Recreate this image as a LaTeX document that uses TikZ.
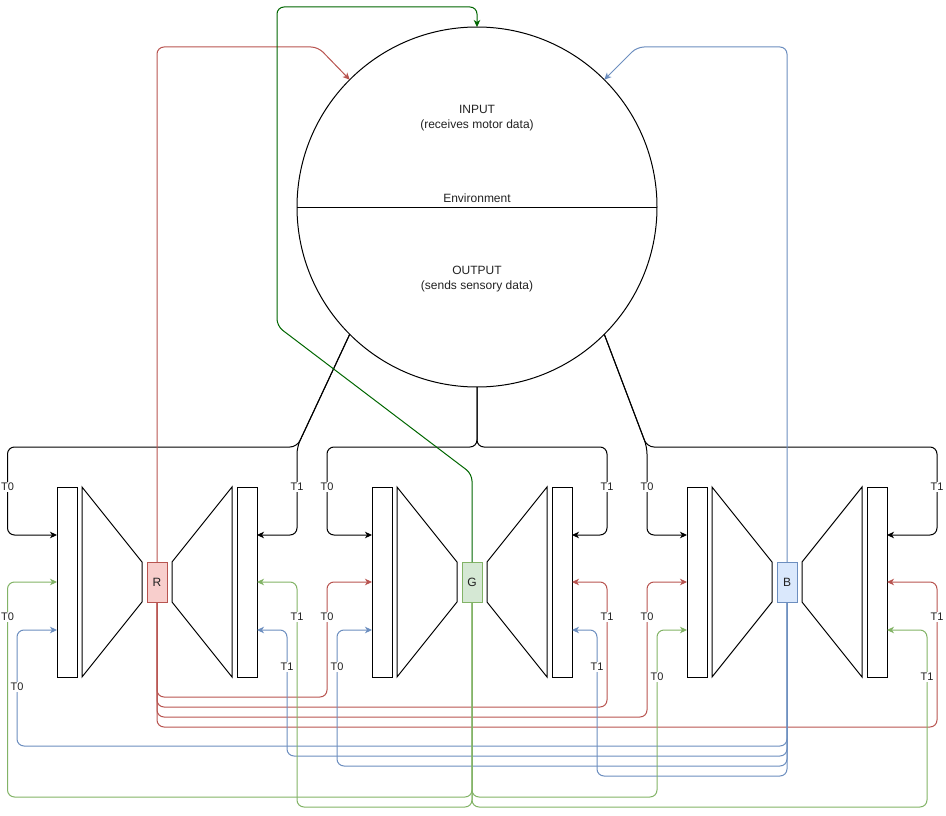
\documentclass[tikz,border=0pt]{standalone}
\usepackage{fontspec}
\setmainfont{Liberation Sans}
\usetikzlibrary{arrows.meta}
\definecolor{redS}{HTML}{B85450}
\definecolor{redF}{HTML}{F8CECC}
\definecolor{grnS}{HTML}{82B366}
\definecolor{grnF}{HTML}{D5E8D4}
\definecolor{bluS}{HTML}{6C8EBF}
\definecolor{bluF}{HTML}{DAE8FC}
\definecolor{dkgrn}{HTML}{006600}
\definecolor{txtc}{HTML}{222222}
\tikzset{
  arr/.style={-{Stealth[length=7pt,width=6.5pt,inset=2pt]}},
  rc/.style={rounded corners=7pt},
  bar/.style={draw, minimum width=20pt, minimum height=190pt, inner sep=0pt, outer sep=0pt},
  cbox/.style={draw, minimum width=20pt, minimum height=40pt, inner sep=0pt, outer sep=0pt, font=\fontsize{12}{14}\selectfont, text=txtc},
  lbl/.style={fill=white, inner sep=1pt, font=\fontsize{11}{13}\selectfont, text=txtc},
  big/.style={align=center, font=\fontsize{12}{15}\selectfont, text=txtc}
}
\begin{document}
\begin{tikzpicture}[x=1pt,y=-1pt,line width=1pt]
\useasboundingbox (0,0) rectangle (946,816);

% environment circle
\node[draw, circle, minimum size=360pt, inner sep=0pt, outer sep=0pt] (env) at (477,207) {};
\draw (env.west) -- (env.east);
\node[big] (inp) at (477,118.5) {INPUT\\(receives motor data)};
\node[big] (envl) at (477,198) {Environment};
\node[big] (outp) at (477,279.5) {OUTPUT\\(sends sensory data)};

% autoencoder units
\foreach \i/\o/\lab/\fc/\dc in {0/0/R/redF/redS, 1/315/G/grnF/grnS, 2/630/B/bluF/bluS} {
  \node[bar] (lb\i) at (67+\o,582) {};
  \node[bar] (rb\i) at (247+\o,582) {};
  \draw (82+\o,487) -- (142+\o,562) -- (142+\o,602) -- (82+\o,677) -- cycle;
  \draw (232+\o,487) -- (172+\o,562) -- (172+\o,602) -- (232+\o,677) -- cycle;
  \node[cbox, fill=\fc, draw=\dc] (box\lab) at (157+\o,582) {\lab};
}

% black connectors from environment output
\draw[arr, rc] (env.-135) -- (297,447) -- (7.5,447) -- (7.5,535) -- (lb0.west |- 0,535);
\draw[arr, rc] (env.-135) -- (297,447) -- (297,535) -- (rb0.east |- 0,535);
\draw[arr, rc] (env.south) -- (477,447) -- (327,447) -- (327,535) -- (lb1.west |- 0,535);
\draw[arr, rc] (env.south) -- (477,447) -- (607,447) -- (607,535) -- (rb1.east |- 0,535);
\draw[arr, rc] (env.-45) -- (647,447) -- (647,535) -- (lb2.west |- 0,535);
\draw[arr, rc] (env.-45) -- (647,447) -- (937,447) -- (937,535) -- (rb2.east |- 0,535);

% red connectors
\draw[redS, arr, rc] (boxR.north) -- (157,47) -- (318,47) -- (env.135);
\draw[redS, arr, rc] (boxR.south) -- (157,697) -- (327,697) -- (327,582) -- (lb1.west |- 0,582);
\draw[redS, arr, rc] (boxR.south) -- (157,707) -- (607,707) -- (607,582) -- (rb1.east |- 0,582);
\draw[redS, arr, rc] (boxR.south) -- (157,717) -- (647,717) -- (647,582) -- (lb2.west |- 0,582);
\draw[redS, arr, rc] (boxR.south) -- (157,727) -- (937,727) -- (937,582) -- (rb2.east |- 0,582);

% blue connectors
\draw[bluS, arr, rc] (boxB.north) -- (787,47) -- (637,47) -- (env.45);
\draw[bluS, arr, rc] (boxB.south) -- (787,746) -- (17,746) -- (17,630) -- (lb0.west |- 0,630);
\draw[bluS, arr, rc] (boxB.south) -- (787,756) -- (287,756) -- (287,630) -- (rb0.east |- 0,630);
\draw[bluS, arr, rc] (boxB.south) -- (787,766) -- (337,766) -- (337,630) -- (lb1.west |- 0,630);
\draw[bluS, arr, rc] (boxB.south) -- (787,776) -- (597,776) -- (597,630) -- (rb1.east |- 0,630);

% green connectors
\draw[dkgrn, arr, rc] (boxG.north) -- (472,474) -- (277,326) -- (277,7) -- (477,7) -- (env.north);
\draw[grnS, arr, rc] (boxG.south) -- (472,797) -- (7.5,797) -- (7.5,582) -- (lb0.west |- 0,582);
\draw[grnS, arr, rc] (boxG.south) -- (472,807) -- (297,807) -- (297,582) -- (rb0.east |- 0,582);
\draw[grnS, arr, rc] (boxG.south) -- (472,797) -- (657,797) -- (657,630) -- (lb2.west |- 0,630);
\draw[grnS, arr, rc] (boxG.south) -- (472,807) -- (927,807) -- (927,630) -- (rb2.east |- 0,630);

% labels
\node[lbl] (k1) at (7.5,487) {T0};
\node[lbl] (k2) at (297,487) {T1};
\node[lbl] (k3) at (327,487) {T0};
\node[lbl] (k4) at (607,487) {T1};
\node[lbl] (k5) at (647,487) {T0};
\node[lbl] (k6) at (937,487) {T1};
\node[lbl] (r1) at (327,617) {T0};
\node[lbl] (r2) at (607,617) {T1};
\node[lbl] (r3) at (647,617) {T0};
\node[lbl] (r4) at (937,617) {T1};
\node[lbl] (b1) at (17,687) {T0};
\node[lbl] (b2) at (287,667) {T1};
\node[lbl] (b3) at (337,667) {T0};
\node[lbl] (b4) at (597,667) {T1};
\node[lbl] (g1) at (7.5,617) {T0};
\node[lbl] (g2) at (297,617) {T1};
\node[lbl] (g3) at (657,677) {T0};
\node[lbl] (g4) at (927,677) {T1};
\end{tikzpicture}
\end{document}
